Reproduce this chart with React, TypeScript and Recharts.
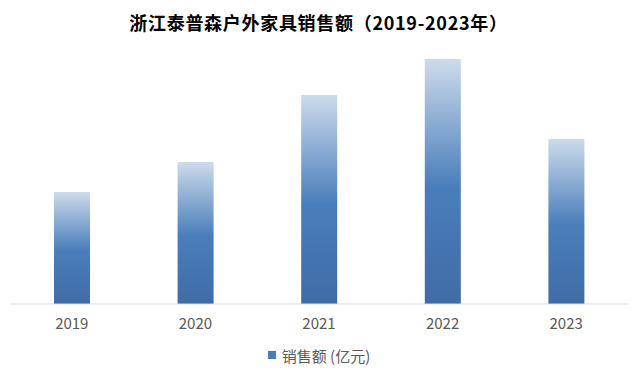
import { BarChart, Bar, XAxis, YAxis, Legend } from 'recharts'

const years = ['2019', '2020', '2021', '2022', '2023']
const sales = [5.6, 7.1, 10.45, 12.25, 8.25]

const data = years.map((year, i) => ({ year, sales: sales[i] }))

const LegendBox = () => (
  <div style={{ display: 'flex', justifyContent: 'center', alignItems: 'center', height: 24, fontSize: 15, color: '#595959' }}>
    <span style={{ width: 8, height: 8, background: '#4a7ebb', marginRight: 6, display: 'inline-block' }} />
    销售额 (亿元)
  </div>
)

const App = () => {
  const wrapStyle: React.CSSProperties = {
    position: 'relative',
    width: 637,
    height: 377,
    background: '#fff',
    fontFamily: '"Noto Sans CJK SC", "Noto Sans", sans-serif',
    margin: -8,
  }

  const titleStyle: React.CSSProperties = {
    position: 'absolute',
    top: 10,
    left: 0,
    width: 637,
    textAlign: 'center',
    fontSize: 18,
    fontWeight: 700,
    color: '#000',
    lineHeight: '24px',
    letterSpacing: 0.7,
  }

  return (
    <div style={wrapStyle}>
      <div style={titleStyle}>浙江泰普森户外家具销售额（2019-2023年）</div>
      <BarChart width={637} height={377} data={data} margin={{ top: 24, right: 9, left: 10, bottom: 19 }} barSize={36}>
        <defs>
          <linearGradient id="barFill" x1="0" y1="0" x2="0" y2="1">
            <stop offset="0%" stopColor="#cddbeb" />
            <stop offset="52%" stopColor="#4a7ebb" />
            <stop offset="100%" stopColor="#3f6ca6" />
          </linearGradient>
        </defs>
        <XAxis
          dataKey="year"
          height={30}
          axisLine={{ stroke: '#d9d9d9' }}
          tickLine={false}
          tick={{ fill: '#595959', fontSize: 15 }}
          tickMargin={8}
        />
        <YAxis hide domain={[0, 14]} />
        <Legend verticalAlign="bottom" content={<LegendBox />} wrapperStyle={{ bottom: 10 }} />
        <Bar dataKey="sales" fill="url(#barFill)" isAnimationActive={false} />
      </BarChart>
    </div>
  )
}

export default App
